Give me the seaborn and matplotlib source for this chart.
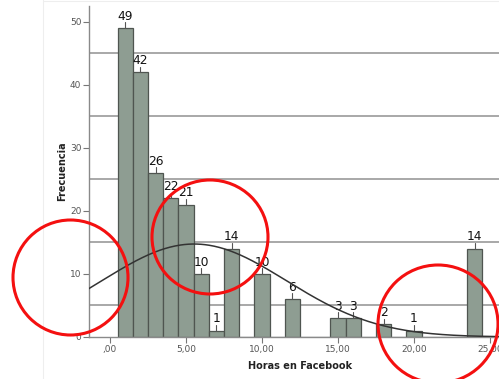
import numpy as np
import pandas as pd
import seaborn as sns
import matplotlib
matplotlib.use("Agg")
import matplotlib.pyplot as plt
from matplotlib.patches import Ellipse
from matplotlib.lines import Line2D

# Hours on Facebook (value) and how many respondents gave each value
horas = [1, 2, 3, 4, 5, 6, 7, 8, 10, 12, 15, 16, 18, 20, 24]
frecuencia = [49, 42, 26, 22, 21, 10, 1, 14, 10, 6, 3, 3, 2, 1, 14]

x_ticks = [0, 5, 10, 15, 20, 25]
x_tick_labels = [",00", "5,00", "10,00", "15,00", "20,00", "25,00"]
y_ticks = [0, 10, 20, 30, 40, 50]
grid_levels = [5, 15, 25, 35, 45]

df = pd.DataFrame({"Horas": horas, "Frecuencia": frecuencia})

sns.set_style("white")
plt.rcParams["font.family"] = ["DejaVu Sans"]

W, H = 499, 379
fig = plt.figure(figsize=(W / 100, H / 100), dpi=100)
ax = fig.add_axes([89 / W, (H - 337) / H, (W - 89) / W, (337 - 6) / H])

# horizontal reference lines behind the bars
for g in grid_levels:
    ax.axhline(g, color="#9a9a9a", lw=1.2, zorder=0)

sns.histplot(data=df, x="Horas", weights="Frecuencia", binwidth=1,
             binrange=(0.5, 24.5),
             color="#8e9d92", edgecolor="#4f5550", linewidth=0.9,
             alpha=1.0, ax=ax, zorder=2)

# count labels with a short leader above each bar
for h, f in zip(horas, frecuencia):
    ax.plot([h, h], [f, f + 0.9], color="#555555", lw=0.8, zorder=3)
    ax.text(h, f + 0.85, str(f), ha="center", va="bottom",
            fontsize=8.8, color="#111111", zorder=4)

# fitted normal curve scaled to the counts
vals = np.repeat(horas, frecuencia).astype(float)
mu, sd, n = vals.mean(), vals.std(ddof=1), len(vals)
xs = np.linspace(-1.4, 25.6, 400)
ys = n * 1.0 * np.exp(-0.5 * ((xs - mu) / sd) ** 2) / (sd * np.sqrt(2 * np.pi))
ax.plot(xs, ys, color="#333333", lw=1.1, zorder=5)

ax.set_xlim(-1.38, 25.59)
ax.set_ylim(0, 52.5)
ax.set_xticks(x_ticks)
ax.set_xticklabels(x_tick_labels)
ax.set_yticks(y_ticks)
ax.tick_params(axis="both", direction="out", length=4, width=0.8,
               color="#777777", labelcolor="#555555", labelsize=6.5, pad=1.5,
               bottom=True, left=True)

for side in ["top", "right"]:
    ax.spines[side].set_visible(False)
for side in ["left", "bottom"]:
    ax.spines[side].set_color("#8a8a8a")
    ax.spines[side].set_linewidth(1.0)

ax.set_xlabel("Horas en Facebook", fontsize=7, fontweight="bold", color="#222222")
ax.set_ylabel("Frecuencia", fontsize=7, fontweight="bold", color="#222222")
ax.xaxis.set_label_coords((300 - 89) / (W - 89), -0.072)
ax.xaxis.label.set_va("top")
ax.yaxis.set_label_coords((62 - 89) / (W - 89), 0.5)
ax.yaxis.label.set_va("center")

# faint outer frame of the chart
fig.add_artist(Line2D([43 / W, 43 / W], [0, 1], transform=fig.transFigure,
                      color="#eeeeee", lw=0.8))
fig.add_artist(Line2D([43 / W, 1], [1 - 0.5 / H, 1 - 0.5 / H], transform=fig.transFigure,
                      color="#eeeeee", lw=0.8))

# red highlight circles
for cx, cy, w, h in [(70.5, 277.5, 115, 115), (210, 237, 116, 114), (438, 324, 120, 118)]:
    fig.add_artist(Ellipse((cx / W, 1 - cy / H), w / W, h / H,
                           transform=fig.transFigure, fill=False,
                           edgecolor="#f41010", lw=2.2, zorder=10))

fig.savefig("out.png", dpi=100)
